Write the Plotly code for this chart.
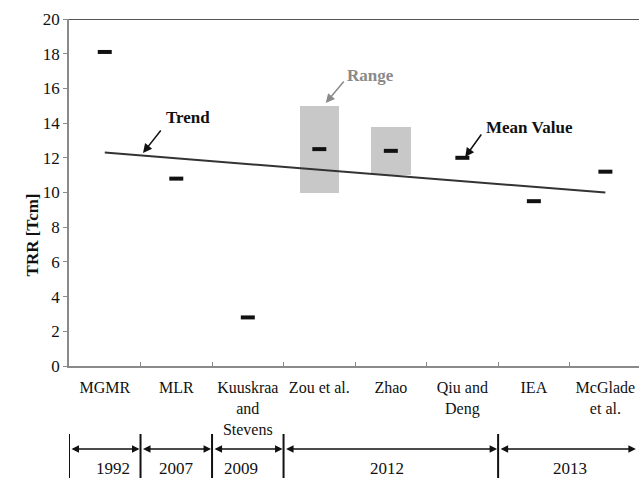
import plotly.graph_objects as go

# ---- data ----
categories = ["MGMR", "MLR", "Kuuskraa<br>and<br>Stevens", "Zou et al.", "Zhao",
              "Qiu and<br>Deng", "IEA", "McGlade<br>et al."]
mean_values = [18.1, 10.8, 2.8, 12.5, 12.4, 12.0, 9.5, 11.2]
range_low = [None, None, None, 10.0, 11.0, None, None, None]
range_high = [None, None, None, 15.0, 13.8, None, None, None]
trend_values = [12.3, 10.0]
years = ["1992", "2007", "2009", "2012", "2013"]
year_counts = [1, 1, 1, 3, 2]
y_ticks = list(range(0, 21, 2))

FONT = "Liberation Serif, Times New Roman, serif"
fig = go.Figure()

# range boxes
bar_x = [c for c, lo in zip(categories, range_low) if lo is not None]
bar_base = [lo for lo in range_low if lo is not None]
bar_h = [hi - lo for hi, lo in zip(range_high, range_low) if lo is not None]
fig.add_trace(go.Bar(x=bar_x, y=bar_h, base=bar_base, width=0.55,
                     marker=dict(color="#c8c8c8", line=dict(width=0)),
                     showlegend=False, hoverinfo="skip"))

# trend line
fig.add_trace(go.Scatter(x=[categories[0], categories[-1]], y=trend_values, mode="lines",
                         line=dict(color="#333333", width=2), showlegend=False))

# mean value dashes
fig.add_trace(go.Scatter(x=categories, y=mean_values, mode="markers",
                         marker=dict(symbol="line-ew", size=10,
                                     line=dict(color="#111111", width=4)),
                         showlegend=False))

ann = []
# callouts (arrow + label)
def callout(text, head, tail, textpos, color):
    ann.append(dict(x=head[0], y=head[1], ax=tail[0], ay=tail[1], axref="x", ayref="y",
                    xref="x", yref="y", text="", showarrow=True, arrowhead=2,
                    arrowsize=1.2, arrowwidth=1.5, arrowcolor=color, standoff=0))
    ann.append(dict(x=textpos[0], y=textpos[1], xref="x", yref="y", text="<b>%s</b>" % text,
                    showarrow=False, font=dict(family=FONT, size=17, color=color)))

callout("Trend", (0.535, 12.28), (0.80, 13.66), (1.16, 14.35), "#111111")
callout("Range", (3.09, 15.16), (3.36, 16.48), (3.72, 16.77), "#8a8a8a")
callout("Mean Value", (5.04, 12.05), (5.28, 13.43), (5.94, 13.72), "#111111")

# y-axis title
ann.append(dict(x=-0.084, y=0.378, xref="paper", yref="paper", text="<b>TRR [Tcm]</b>",
                textangle=-90, showarrow=False, font=dict(family=FONT, size=17, color="#111111")))

# timeline below axis
shapes = []
bounds = [-0.5]
for n in year_counts:
    bounds.append(bounds[-1] + n)
for b in bounds[:-1]:
    shapes.append(dict(type="line", xref="x", yref="paper", x0=b, x1=b, y0=-0.196, y1=-0.36,
                       line=dict(color="#111111", width=2)))
for i, yr in enumerate(years):
    a, b = bounds[i], min(bounds[i + 1], 7.44)
    ann.append(dict(x=b, y=-0.239, ax=a, ay=0, axref="x", ayref="pixel", xref="x", yref="paper",
                    text="", showarrow=True, arrowhead=2, arrowside="end+start", arrowsize=1,
                    arrowwidth=1.5, arrowcolor="#111111", standoff=1, startstandoff=1))
label_pos = [0.12, 1.0, 1.9, 3.95, 6.5]
for yr, xp in zip(years, label_pos):
    ann.append(dict(x=xp, y=-0.262, xref="x", yref="paper", yanchor="top", text=yr,
                    showarrow=False, font=dict(family=FONT, size=17, color="#111111")))

# top border
shapes.append(dict(type="line", xref="paper", yref="y", x0=0, x1=1, y0=20, y1=20,
                   line=dict(color="#555555", width=2)))

fig.update_layout(
    width=639, height=478, margin=dict(l=69, r=0, t=19, b=112),
    paper_bgcolor="white", plot_bgcolor="white",
    font=dict(family=FONT, size=17, color="#111111"),
    annotations=ann, shapes=shapes, bargap=0,
    xaxis=dict(type="category", categoryorder="array", categoryarray=categories,
               range=[-0.5, 7.47], showline=True, linecolor="#8a8a8a", linewidth=1.5,
               ticks="inside", ticklen=4, tickcolor="#8a8a8a", tickson="boundaries",
               ticklabelstandoff=6,
               showgrid=False, zeroline=False, tickfont=dict(family=FONT, size=16)),
    yaxis=dict(range=[0, 20], tickvals=y_ticks, showline=True, linecolor="#8a8a8a",
               linewidth=1.5, ticks="outside", ticklen=4, tickcolor="#8a8a8a",
               showgrid=False, zeroline=False, tickfont=dict(family=FONT, size=17)),
)

fig.write_html("out.html")
